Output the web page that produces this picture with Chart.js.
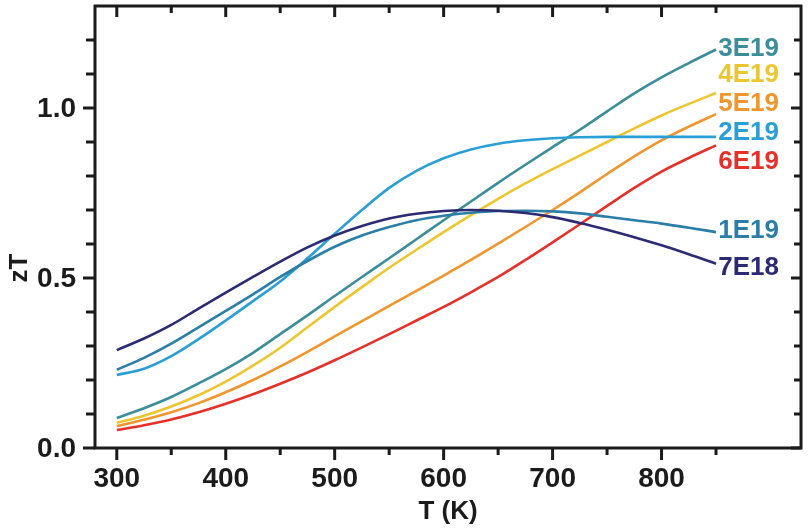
<!DOCTYPE html>
<html>
<head>
<meta charset="utf-8">
<script src="https://cdn.jsdelivr.net/npm/chart.js@4.4.0/dist/chart.umd.min.js"></script>
<style>
  html, body { margin: 0; padding: 0; background: #fff; }
  #wrap { width: 808px; height: 532px; }
</style>
</head>
<body>
<div id="wrap"><canvas id="c"></canvas></div>
<script>
// temperature grid (K)
const temps = [300, 325, 350, 375, 400, 425, 450, 475, 500, 525, 550, 575,
               600, 625, 650, 675, 700, 725, 750, 775, 800, 825, 850];

// zT for each carrier concentration
const zt7E18 = [0.288, 0.322, 0.362, 0.41, 0.457, 0.503, 0.548, 0.59, 0.625, 0.653, 0.675, 0.689,
                0.697, 0.70, 0.698, 0.691, 0.679, 0.662, 0.642, 0.62, 0.596, 0.57, 0.542];
const zt1E19 = [0.23, 0.265, 0.307, 0.355, 0.403, 0.452, 0.503, 0.55, 0.592, 0.625, 0.65, 0.67,
                0.683, 0.692, 0.697, 0.698, 0.696, 0.69, 0.68, 0.67, 0.66, 0.648, 0.635];
const zt2E19 = [0.215, 0.233, 0.27, 0.32, 0.375, 0.432, 0.49, 0.558, 0.63, 0.70, 0.765, 0.815,
                0.852, 0.878, 0.895, 0.905, 0.911, 0.914, 0.915, 0.915, 0.915, 0.915, 0.915];
const zt3E19 = [0.088, 0.117, 0.15, 0.19, 0.232, 0.28, 0.335, 0.39, 0.447, 0.503, 0.558, 0.614,
                0.67, 0.725, 0.78, 0.833, 0.885, 0.936, 0.99, 1.043, 1.09, 1.132, 1.172];
const zt4E19 = [0.074, 0.095, 0.122, 0.155, 0.195, 0.242, 0.295, 0.355, 0.415, 0.473, 0.53, 0.583,
                0.635, 0.685, 0.733, 0.778, 0.82, 0.86, 0.90, 0.94, 0.978, 1.012, 1.044];
const zt5E19 = [0.065, 0.083, 0.105, 0.132, 0.164, 0.20, 0.24, 0.283, 0.328, 0.373, 0.418, 0.462,
                0.507, 0.553, 0.601, 0.65, 0.70, 0.752, 0.806, 0.858, 0.905, 0.945, 0.982];
const zt6E19 = [0.053, 0.067, 0.084, 0.105, 0.13, 0.158, 0.189, 0.222, 0.258, 0.296, 0.335, 0.375,
                0.415, 0.458, 0.503, 0.553, 0.605, 0.658, 0.712, 0.765, 0.813, 0.853, 0.89];

// series names, colours and where their labels sit (in zT units)
const seriesNames = ['7E18', '1E19', '2E19', '3E19', '4E19', '5E19', '6E19'];
const seriesData = [zt7E18, zt1E19, zt2E19, zt3E19, zt4E19, zt5E19, zt6E19];
const seriesColors = ['#2d2a74', '#2a7ea8', '#2a9fd6', '#3b8d99', '#ecc630', '#f0962e', '#e5312a'];
const labelY = [0.532, 0.641, 0.929, 1.178, 1.10, 1.015, 0.844];

// axis ticks
const xTickValues = [300, 350, 400, 450, 500, 550, 600, 650, 700, 750, 800, 850];
const xTickLabels = ['300', '400', '500', '600', '700', '800'];
const yTickValues = [0, 0.1, 0.2, 0.3, 0.4, 0.5, 0.6, 0.7, 0.8, 0.9, 1.0, 1.1, 1.2];
const yTickLabels = ['0.0', '0.5', '1.0'];

const FONT = '"Liberation Sans", Arial, sans-serif';

// frame, ticks, labels drawn by hand around the plot
const framePlugin = {
    id: 'frame',
    afterDraw(chart) {
        const ctx = chart.ctx;
        const a = chart.chartArea;
        const x = chart.scales.x, y = chart.scales.y;
        ctx.save();
        ctx.strokeStyle = '#1b1b1b';
        ctx.lineWidth = 3;
        ctx.strokeRect(a.left, a.top, a.right - a.left, a.bottom - a.top);

        ctx.beginPath();
        xTickValues.forEach(v => {
            const px = x.getPixelForValue(v);
            const major = v % 100 === 0;
            ctx.moveTo(px, a.bottom);
            ctx.lineTo(px, a.bottom + (major ? 12 : 7));
            ctx.moveTo(px, a.top);
            ctx.lineTo(px, a.top + (major ? 11 : 7));
        });
        yTickValues.forEach(v => {
            const py = y.getPixelForValue(v);
            const major = Math.round(v * 10) % 5 === 0;
            ctx.moveTo(a.left, py);
            ctx.lineTo(a.left - (major ? 12 : 9), py);
            ctx.moveTo(a.right, py);
            ctx.lineTo(a.right - (major ? 10 : 7), py);
        });
        ctx.stroke();

        ctx.fillStyle = '#1b1b1b';
        ctx.font = 'bold 28px ' + FONT;
        ctx.textBaseline = 'middle';
        ctx.textAlign = 'center';
        xTickLabels.forEach(t => {
            ctx.fillText(t, x.getPixelForValue(parseFloat(t)), a.bottom + 31);
        });
        ctx.textAlign = 'right';
        yTickLabels.forEach(t => {
            ctx.fillText(t, a.left - 19, y.getPixelForValue(parseFloat(t)) + 1);
        });

        // axis titles
        ctx.font = 'bold 26px ' + FONT;
        ctx.textAlign = 'center';
        ctx.fillText('T (K)', (a.left + a.right) / 2, a.bottom + 64);
        ctx.save();
        ctx.translate(20, 268);
        ctx.rotate(-Math.PI / 2);
        ctx.fillText('zT', 0, 0);
        ctx.restore();

        // series labels
        ctx.font = 'bold 26px ' + FONT;
        ctx.textAlign = 'left';
        seriesNames.forEach((n, i) => {
            ctx.fillStyle = seriesColors[i];
            ctx.fillText(n, x.getPixelForValue(852), y.getPixelForValue(labelY[i]) + 1);
        });
        ctx.restore();
    }
};

new Chart(document.getElementById('c'), {
    type: 'line',
    data: {
        datasets: seriesNames.map((n, i) => ({
            label: n,
            data: temps.map((t, j) => ({ x: t, y: seriesData[i][j] })),
            borderColor: seriesColors[i],
            borderWidth: 2.6,
            pointRadius: 0,
            fill: false,
            cubicInterpolationMode: 'monotone'
        }))
    },
    options: {
        responsive: true,
        maintainAspectRatio: false,
        animation: false,
        layout: { padding: { left: 95, right: 7, top: 6, bottom: 84 } },
        plugins: {
            legend: { display: false },
            tooltip: { enabled: false }
        },
        scales: {
            x: { type: 'linear', min: 280, max: 928, display: false },
            y: { min: 0, max: 1.3, display: false }
        }
    },
    plugins: [framePlugin]
});
</script>
</body>
</html>
